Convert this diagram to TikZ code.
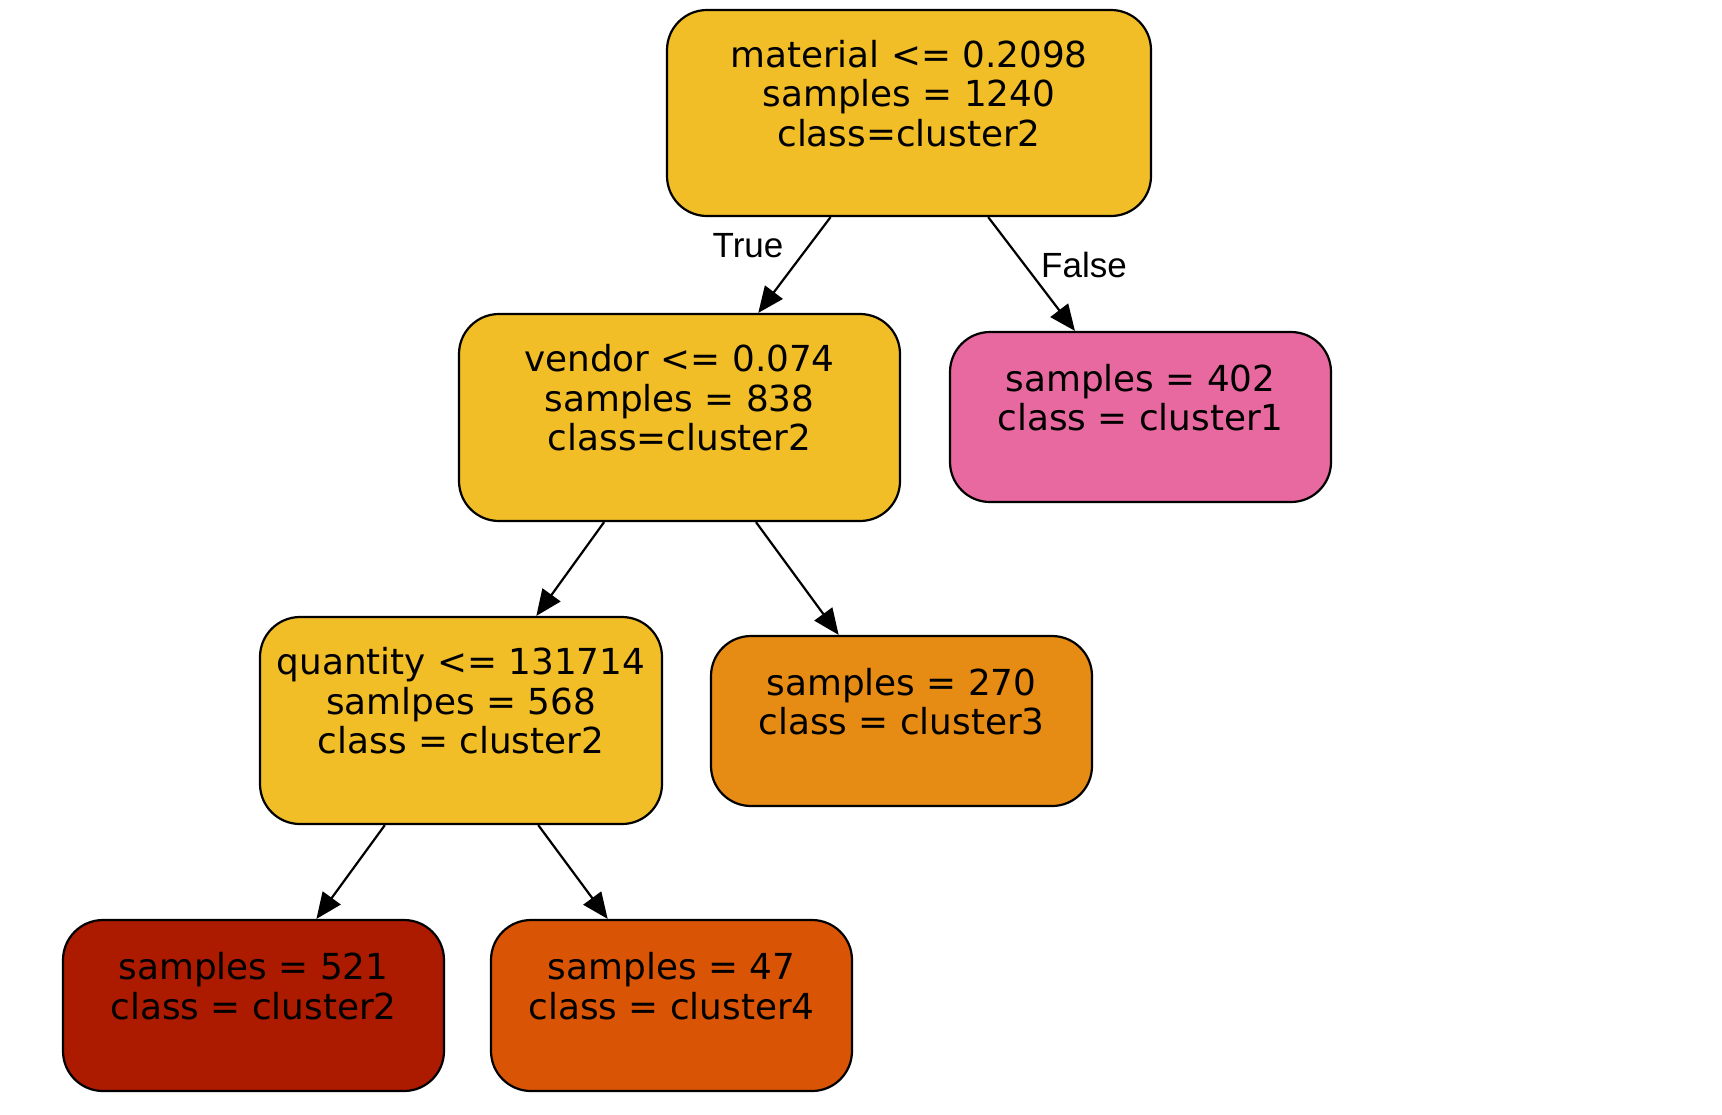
\documentclass[tikz,border=0pt]{standalone}
\usepackage{fontspec}
\setmainfont{DejaVu Sans}
\newfontfamily\etiqfont{Liberation Sans}
\usetikzlibrary{arrows.meta}

% Colores de las hojas
\definecolor{amarillo}{HTML}{F2BE28}
\definecolor{rosa}{HTML}{E8699F}
\definecolor{naranja}{HTML}{E68B14}
\definecolor{rojo}{HTML}{AC1A00}
\definecolor{oscuro}{HTML}{D95505}

\tikzset{
  nodo/.style={draw=black, line width=1.1pt, rounded corners=20pt, align=center,
    inner sep=0pt, font=\fontsize{17.9}{19.75}\selectfont},
  flecha/.style={line width=1.1pt, -{Triangle[length=13pt,width=11pt]}},
  etiq/.style={font=\etiqfont\fontsize{17.5}{20}\selectfont}
}

\begin{document}
\begin{tikzpicture}[x=0.5pt, y=-0.5pt]
      \useasboundingbox (0,0) rectangle (1722,1114);

      % Nodos de decision
      \node[nodo, fill=amarillo, minimum width=242pt, minimum height=103pt] (raiz) at (909,113)
        {material <= 0.2098\\samples = 1240\\class=cluster2\\~};
      \node[nodo, fill=amarillo, minimum width=220.5pt, minimum height=103.5pt] (vendor) at (679.5,417.5)
        {vendor <= 0.074\\samples = 838\\class=cluster2\\~};
      \node[nodo, fill=amarillo, minimum width=201pt, minimum height=103.5pt] (quantity) at (461,720.5)
        {quantity <= 131714\\samlpes = 568\\class = cluster2\\~};

      % Hojas
      \node[nodo, fill=rosa, minimum width=190.5pt, minimum height=85pt] (hojaA) at (1140.5,417)
        {samples = 402\\class = cluster1\\~};
      \node[nodo, fill=naranja, minimum width=190.5pt, minimum height=85pt] (hojaB) at (901.5,721)
        {samples = 270\\class = cluster3\\~};
      \node[nodo, fill=rojo, minimum width=190.5pt, minimum height=85.5pt] (hojaC) at (253.5,1005.5)
        {samples = 521\\class = cluster2\\~};
      \node[nodo, fill=oscuro, minimum width=180.5pt, minimum height=85.5pt] (hojaD) at (671.5,1005.5)
        {samples = 47\\class = cluster4\\~};

      % Aristas
      \draw[flecha] (raiz) -- (vendor);
      \draw[flecha] (raiz) -- (hojaA);
      \draw[flecha] (vendor) -- (quantity);
      \draw[flecha] (vendor) -- (hojaB);
      \draw[flecha] (quantity) -- (hojaC);
      \draw[flecha] (quantity) -- (hojaD);

      % Etiquetas de las aristas
      \node[etiq] (verdad) at (748,246) {True};
      \node[etiq] (falso) at (1084,265) {False};
\end{tikzpicture}
\end{document}
